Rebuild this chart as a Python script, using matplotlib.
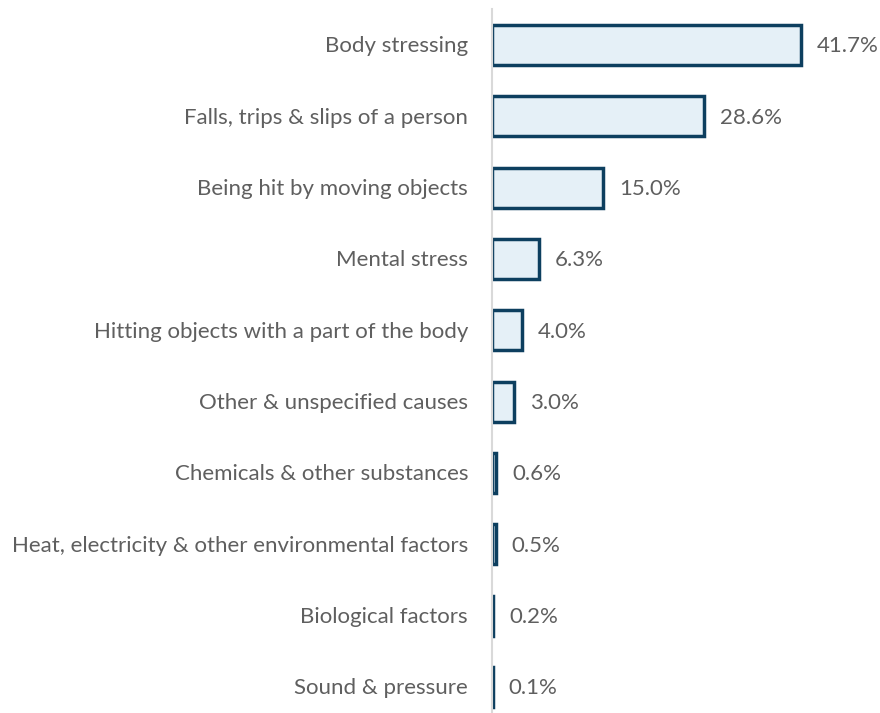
import matplotlib
matplotlib.use("Agg")
import matplotlib.pyplot as plt

categories = [
    "Body stressing",
    "Falls, trips & slips of a person",
    "Being hit by moving objects",
    "Mental stress",
    "Hitting objects with a part of the body",
    "Other & unspecified causes",
    "Chemicals & other substances",
    "Heat, electricity & other environmental factors",
    "Biological factors",
    "Sound & pressure",
]
values = [41.7, 28.6, 15.0, 6.3, 4.0, 3.0, 0.6, 0.5, 0.2, 0.1]

W, H = 880, 713
fig = plt.figure(figsize=(W / 100, H / 100), dpi=100)
x0 = 492
ax = fig.add_axes([x0 / W, 0, 1 - x0 / W, 1 - 9 / H])
pxper = 309 / 41.7
ax.set_xlim(0, (W - x0) / pxper)
ax.set_ylim((713 - 45) / 71.33, -36 / 71.33)

text_color = "#5f5f5f"
family = ["Lato", "DejaVu Sans"]
ypos = list(range(len(categories)))
ax.barh(ypos, values, height=0.56, color="#e5f0f7", edgecolor="#0d3f5f", linewidth=2.5)

for y, v, c in zip(ypos, values, categories):
    ax.text(v + 16 / pxper, y + 0.02, f"{v:.1f}%", va="center", ha="left",
            fontsize=16, color=text_color, family=family, fontweight="normal")
    ax.text(-24 / pxper, y + 0.02, c, va="center", ha="right",
            fontsize=16, color=text_color, family=family, fontweight="normal")

for s in ["top", "right", "bottom"]:
    ax.spines[s].set_visible(False)
ax.spines["left"].set_color("#d9d9d9")
ax.spines["left"].set_linewidth(1.5)
ax.set_xticks([])
ax.set_yticks([])
ax.patch.set_alpha(0)

fig.savefig("out.png", dpi=100)
